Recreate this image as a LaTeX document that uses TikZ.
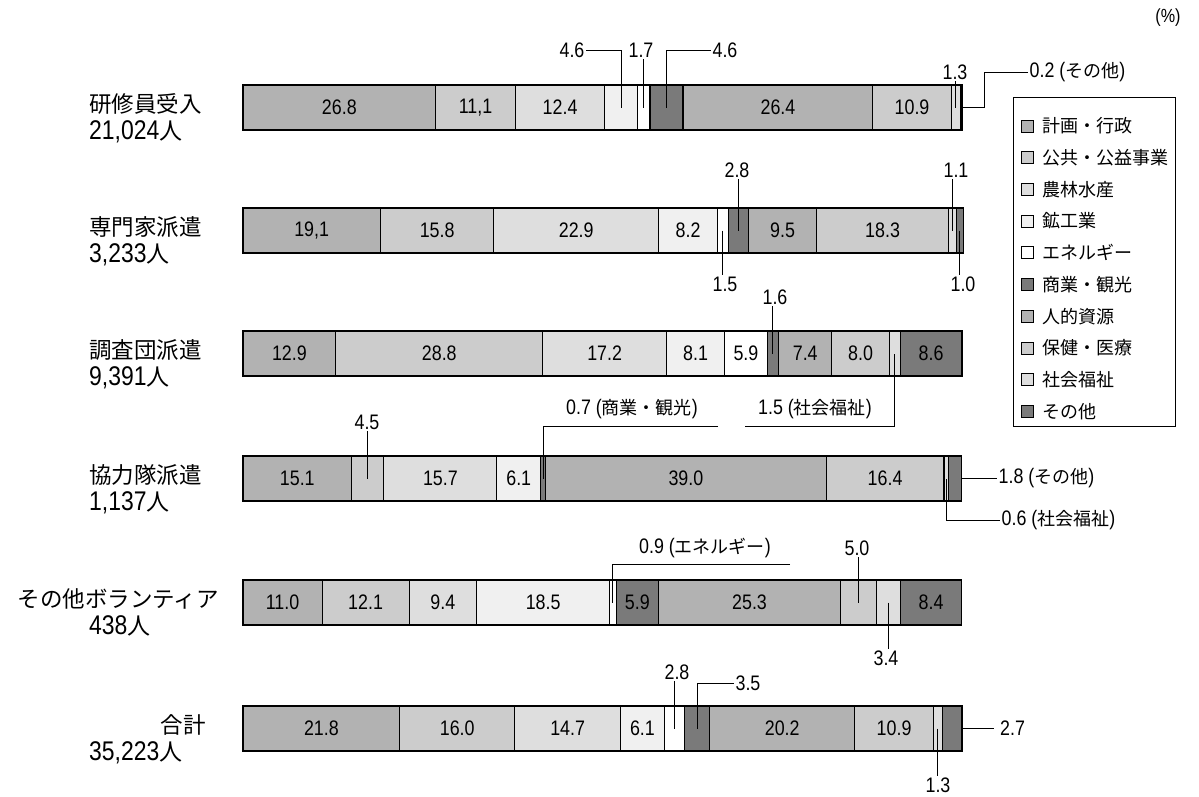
\documentclass[tikz,border=0pt]{standalone}
\usepackage{fontspec}
\setmainfont[FakeStretch=0.85]{Liberation Sans}
\newfontfamily\cjk{Noto Sans CJK JP}
\usetikzlibrary{calc}
\colorlet{cat1}{black!30}
\colorlet{cat2}{black!20}
\colorlet{cat3}{black!13}
\colorlet{cat4}{black!6}
\colorlet{cat5}{white}
\colorlet{cat6}{black!52}
\colorlet{cat7}{black!30}
\colorlet{cat8}{black!20}
\colorlet{cat9}{black!13}
\colorlet{cat10}{black!52}
\newcommand\jsm[1]{{\cjk\fontsize{18}{19}\selectfont #1}}
\newcommand\jnin{{\cjk\fontsize{23}{24}\selectfont 人}}
\newcommand\mkbar[3]{%
  \node[inner sep=0pt,outer sep=0pt,minimum size=0pt] (#1-0) at (243,#2) {};
  \foreach \v/\st/\lab [count=\i, remember=\i as \j (initially 0)] in {#3}{
    \node[seg,fill=cat\st,minimum width=\v*7.19pt,anchor=west] (#1-\i) at (#1-\j.east) {\lab};
  }%
}
\begin{document}
\begin{tikzpicture}[x=1pt,y=-1pt,
  seg/.style={draw=black,line width=1.1pt,inner sep=0pt,outer sep=0pt,minimum height=45pt,font=\fontsize{21}{22}\selectfont},
  lead/.style={draw=black,line width=1pt},
  num/.style={inner sep=1.5pt,font=\fontsize{21}{22}\selectfont},
  rowname/.style={inner sep=0pt,font=\cjk\fontsize{22.5}{24}\selectfont},
  rowcount/.style={inner sep=0pt,font=\fontsize{27}{28}\selectfont},
  legtxt/.style={inner sep=0pt,anchor=west,font=\cjk\fontsize{18}{20}\selectfont},
  legsym/.style={draw=black,line width=0.8pt,minimum size=12pt,inner sep=0pt},
]
\useasboundingbox (0,0) rectangle (1199,796);
\fill[white] (0,0) rectangle (1199,796);

% bars
\mkbar{r1}{107.5}{26.8/1/26.8, {11.1/2/11,1}, 12.4/3/12.4, 4.6/4/{}, 1.7/5/{}, 4.6/6/{}, 26.4/7/26.4, 10.9/8/10.9, 1.3/9/{}, 0.2/10/{}}
\mkbar{r2}{230.5}{{19.1/1/19,1}, 15.8/2/15.8, 22.9/3/22.9, 8.2/4/8.2, 1.5/5/{}, 2.8/6/{}, 9.5/7/9.5, 18.3/8/18.3, 1.1/9/{}, 1.0/10/{}}
\mkbar{r3}{353.5}{12.9/1/12.9, 28.8/2/28.8, 17.2/3/17.2, 8.1/4/8.1, 5.9/5/5.9, 1.6/6/{}, 7.4/7/7.4, 8.0/8/8.0, 1.5/9/{}, 8.6/10/8.6}
\mkbar{r4}{478.5}{15.1/1/15.1, 4.5/2/{}, 15.7/3/15.7, 6.1/4/6.1, 0.7/6/{}, 39.0/7/39.0, 16.4/8/16.4, 0.6/9/{}, 1.8/10/{}}
\mkbar{r5}{602.5}{11.0/1/11.0, 12.1/2/12.1, 9.4/3/9.4, 18.5/4/18.5, 0.9/5/{}, 5.9/6/5.9, 25.3/7/25.3, 5.0/8/{}, 3.4/9/{}, 8.4/10/8.4}
\mkbar{r6}{728.5}{21.8/1/21.8, 16.0/2/16.0, 14.7/3/14.7, 6.1/4/6.1, 2.8/5/{}, 3.5/6/{}, 20.2/7/20.2, 10.9/8/10.9, 1.3/9/{}, 2.7/10/{}}

% row labels
\node[rowname,anchor=base west] (n1) at (89,112.4) {研修員受入};
\node[rowcount,anchor=base west] (p1) at (89,139) {21,024\jnin};
\node[rowname,anchor=base west] (n2) at (89,235.4) {専門家派遣};
\node[rowcount,anchor=base west] (p2) at (89,262) {3,233\jnin};
\node[rowname,anchor=base west] (n3) at (89,358.4) {調査団派遣};
\node[rowcount,anchor=base west] (p3) at (89,385) {9,391\jnin};
\node[rowname,anchor=base west] (n4) at (89,483.4) {協力隊派遣};
\node[rowcount,anchor=base west] (p4) at (89,510) {1,137\jnin};
\node[rowname,anchor=base east] (n5) at (219,607.4) {その他ボランティア};
\node[rowcount,anchor=base west] (p5) at (89,634) {438\jnin};
\node[rowname,anchor=base east] (n6) at (206,733.4) {合計};
\node[rowcount,anchor=base west] (p6) at (89,760) {35,223\jnin};

% row 1 callouts
\node[num] (a1) at (572,50) {4.6};
\draw[lead] (a1.east) -| (r1-4.center);
\node[num] (a2) at (641,50) {1.7};
\draw[lead] (r1-5.center) -- (r1-5.center |- a2.south);
\node[num] (a3) at (725,50) {4.6};
\draw[lead] (a3.west) -| (r1-6.center);
\node[num] (a4) at (955,72) {1.3};
\draw[lead] (r1-9.center) -- (r1-9.center |- a4.south);
\node[num,anchor=west] (a5) at (1028,72) {0.2 (\jsm{その他})};
\draw[lead] (a5.west) -| ($(r1-10.east)+(22,0)$) -- (r1-10.east);

% row 2 callouts
\node[num] (b1) at (737,170) {2.8};
\draw[lead] (r2-6.center) -- (r2-6.center |- b1.south);
\node[num] (b2) at (956,170) {1.1};
\draw[lead] (r2-9.center) -- (r2-9.center |- b2.south);
\node[num] (b3) at (725,284) {1.5};
\draw[lead] (r2-5.center) -- (r2-5.center |- b3.north);
\node[num] (b4) at (963,284) {1.0};
\draw[lead] (r2-10.center) -- (r2-10.center |- b4.north);

% row 3 callouts
\node[num] (c1) at (775,297) {1.6};
\draw[lead] (r3-6.center) -- (r3-6.center |- c1.south);
\node[num] (c2) at (815,409) {1.5 (\jsm{社会福祉})};
\coordinate (c2l) at (745,426);
\draw[lead] (c2l) -| (r3-9.center);

% row 4 callouts
\node[num] (d1) at (367,422) {4.5};
\draw[lead] (r4-2.center) -- (r4-2.center |- d1.south);
\node[num] (d2) at (632,409) {0.7 (\jsm{商業・観光})};
\coordinate (d2l) at (718,426);
\draw[lead] (d2l) -| (r4-5.center);
\node[num,anchor=west] (d3) at (997,478.5) {1.8 (\jsm{その他})};
\draw[lead] (r4-9.east) -- (r4-9.east -| d3.west);
\node[num,anchor=west] (d4) at (1000,520) {0.6 (\jsm{社会福祉})};
\draw[lead] (d4.west) -| (r4-8.center);

% row 5 callouts
\node[num] (e1) at (705,548) {0.9 (\jsm{エネルギー})};
\coordinate (e1l) at (790,564);
\draw[lead] (e1l) -| (r5-5.center);
\node[num] (e2) at (857,548) {5.0};
\draw[lead] (r5-8.center) -- (r5-8.center |- e2.south);
\node[num] (e3) at (886,658) {3.4};
\draw[lead] (r5-9.center) -- (r5-9.center |- e3.north);

% row 6 callouts
\node[num] (f1) at (677,672) {2.8};
\draw[lead] (r6-5.center) -- (r6-5.center |- f1.south);
\node[num] (f2) at (748,683) {3.5};
\draw[lead] (f2.west) -| (r6-6.center);
\node[num,anchor=west,inner xsep=6pt] (f3) at (994,728.5) {2.7};
\draw[lead] (r6-10.east) -- (f3.west);
\node[num] (f4) at (938,785) {1.3};
\draw[lead] (r6-9.center) -- (r6-9.center |- f4.north);

% percent
\node[inner sep=0pt,font=\fontsize{19}{20}\selectfont] (pct) at (1168,18) {(\%)};

% legend
\node[draw=black,line width=1pt,minimum width=162pt,minimum height=329pt,anchor=north west,inner sep=0pt] (leg) at (1013,97) {};
\foreach \t [count=\k] in {計画・行政, 公共・公益事業, 農林水産, 鉱工業, エネルギー, 商業・観光, 人的資源, 保健・医療, 社会福祉, その他}{
  \node[legsym,fill=cat\k] (s\k) at (1027,{94.3+31.7*\k}) {};
  \node[legtxt] (t\k) at (1042,{94.3+31.7*\k}) {\t};
}
\end{tikzpicture}
\end{document}
